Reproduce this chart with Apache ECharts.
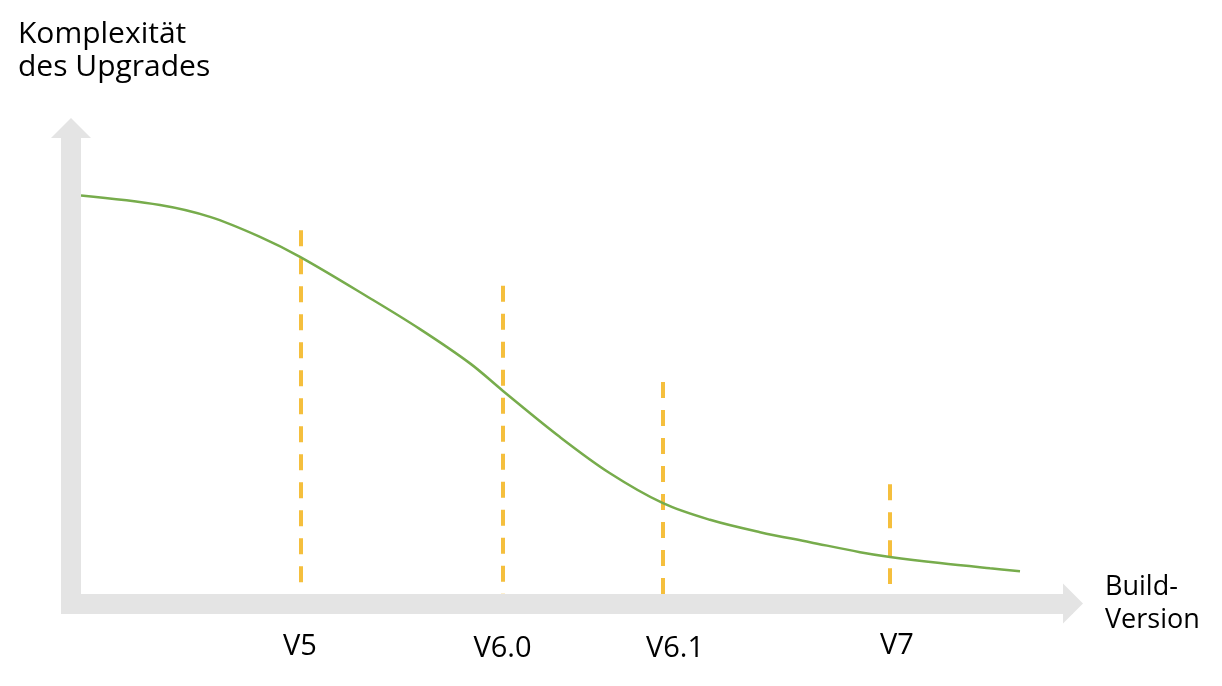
<!DOCTYPE html>
<html>
<head>
<meta charset="utf-8">
<script src="https://cdn.jsdelivr.net/npm/echarts@6/dist/echarts.min.js"></script>
<style>
  html, body { margin: 0; padding: 0; background: #ffffff; }
  #chart { width: 1222px; height: 686px; }
</style>
</head>
<body>
<div id="chart"></div>
<script>
// ---- data ----
const yTitle = 'Komplexität\ndes Upgrades';
const xTitle = 'Build-\nVersion';
const curveX = [1.0, 8.9, 13.9, 18.9, 22.9, 29.9, 34.9, 39.9, 43.2, 48.9, 53.9, 59.2, 63.9, 68.9, 73.9, 78.9, 81.9, 86.9, 91.9, 94.9];
const curveY = [85.8, 83.8, 81.3, 77.1, 72.9, 64.2, 57.7, 50.5, 44.7, 35.0, 27.4, 21.1, 17.6, 15.0, 12.9, 10.8, 9.8, 8.5, 7.4, 6.8];
const versionNames = ['V5', 'V6.0', 'V6.1', 'V7'];
const versionX = [23.0, 43.2, 59.2, 81.9];
const versionTop = [78.5, 66.8, 46.6, 25.1];
const versionBottom = [0, 0, 0, 4.1];
const labelAt = [22.9, 43.15, 60.4, 82.6];

// ---- styles ----
const FONT = "'Segoe UI', 'Open Sans', sans-serif";
const AXIS_GRAY = '#E4E4E4';
const GREEN = '#77AC4C';
const GOLD = '#F5BF3D';
const labelNudge = [1, 5, 4.5, 0];

const chart = echarts.init(document.getElementById('chart'), null, { renderer: 'canvas' });

const rich = {};
versionNames.forEach((n, i) => {
  rich['l' + i] = { fontSize: 29, fontFamily: FONT, fontWeight: 500, color: '#000', lineHeight: 30, padding: [labelNudge[i], 0, 0, 0] };
});

const series = [];
versionNames.forEach((n, i) => {
  series.push({
    type: 'line',
    name: n,
    data: [[versionX[i], versionTop[i]], [versionX[i], versionBottom[i]]],
    symbol: 'none',
    silent: true,
    lineStyle: { color: GOLD, width: 4, type: [16, 12], cap: 'butt' },
    z: 2
  });
});
series.push({
  type: 'line',
  name: 'curve',
  data: curveX.map((x, i) => [x, curveY[i]]),
  smooth: 0.35,
  symbol: 'none',
  silent: true,
  lineStyle: { color: GREEN, width: 2.5 },
  z: 4
});

const option = {
  animation: false,
  backgroundColor: '#ffffff',
  title: {
    text: yTitle,
    left: 13,
    top: 13,
    textStyle: { fontFamily: FONT, fontSize: 30, fontWeight: 500, color: '#000', lineHeight: 33 }
  },
  grid: { left: 61, right: 149, top: 128, bottom: 72, containLabel: false, outerBoundsMode: 'none' },
  xAxis: {
    type: 'value',
    min: -1,
    max: 100.2,
    z: 10,
    name: xTitle,
    nameLocation: 'end',
    nameGap: 32,
    nameTextStyle: { fontFamily: FONT, fontSize: 27, fontWeight: 500, color: '#000', align: 'left', verticalAlign: 'middle', lineHeight: 33 },
    axisLine: {
      show: true, onZero: true,
      symbol: ['none', 'triangle'], symbolSize: [40, 20],
      lineStyle: { color: AXIS_GRAY, width: 20, cap: 'butt' }
    },
    axisTick: { show: false },
    splitLine: { show: false },
    axisLabel: {
      show: true,
      customValues: labelAt,
      margin: 17,
      hideOverlap: false,
      showMinLabel: true,
      showMaxLabel: true,
      formatter: function (v) {
        const i = labelAt.indexOf(v);
        return i >= 0 ? '{l' + i + '|' + versionNames[i] + '}' : '';
      },
      rich: rich
    }
  },
  yAxis: {
    type: 'value',
    min: -2.208,
    max: 100,
    z: 10,
    axisLine: {
      show: true, onZero: true,
      symbol: ['none', 'triangle'], symbolSize: [40, 20],
      lineStyle: { color: AXIS_GRAY, width: 20, cap: 'butt' }
    },
    axisTick: { show: false },
    splitLine: { show: false },
    axisLabel: { show: false }
  },
  series: series
};
chart.setOption(option);
</script>
</body>
</html>
